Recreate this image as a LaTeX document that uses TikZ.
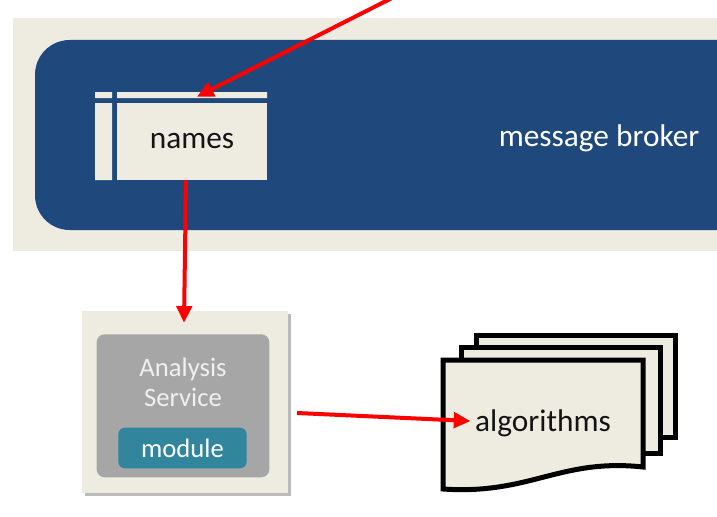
\documentclass[tikz,border=0pt]{standalone}
\usepackage{fontspec}
\setmainfont{Carlito}
\usetikzlibrary{arrows.meta,positioning,shadows}
\definecolor{paper}{RGB}{238,236,225}
\definecolor{broker}{RGB}{31,73,125}
\definecolor{svcgray}{RGB}{166,166,166}
\definecolor{modteal}{RGB}{49,133,156}
\definecolor{ink}{RGB}{20,20,20}

\begin{document}
\begin{tikzpicture}[x=0.75pt,y=-0.75pt,>={Triangle[length=12.5pt,width=11.5pt]},
 flow/.style={draw=red,line width=3pt,->},
 bigfont/.style={font=\fontsize{23.5}{28}\selectfont},
 smallfont/.style={font=\fontsize{20}{22.5}\selectfont},
 sheet/.style={draw=black,line width=3.75pt,fill=paper}]
\clip (0,0) rectangle (717,517);
\fill[white] (0,0) rectangle (717,517);
% message broker band
\fill[paper] (13,18) rectangle (760,251);
\fill[broker,rounded corners=26pt] (35,40) rectangle (800,230);
\node[bigfont,text=white] (broker) at (599,138) {message broker};
% names table
\fill[paper] (95,92) rectangle (112,98) (117,92) rectangle (267,98) (95,103) rectangle (112,180);
\node[bigfont,fill=paper,text=ink,minimum width=112.5pt,minimum height=57.75pt,inner sep=0pt] (names) at (192,141.5) {\raisebox{-2.2pt}{names}};
% analysis service
\node[fill=paper,minimum width=154.5pt,minimum height=136.5pt,
 drop shadow={shadow xshift=2.5pt,shadow yshift=-2.5pt,fill=black!60,opacity=.45}] (svc) at (185,402) {};
\node[fill=svcgray,rounded corners=6pt,minimum width=129.5pt,minimum height=107.25pt] (core) at (183,405.8) {};
\node[smallfont,text=white!94!black,align=center] (svcname) at (183,382) {Analysis\\Service};
\node[smallfont,fill=modteal,text=white,rounded corners=5pt,minimum width=96.3pt,minimum height=30.5pt] (module) at (182.5,448) {\raisebox{-1.5pt}{module}};
% algorithms stack
\draw[sheet] (476,335) rectangle (675,437);
\draw[sheet] (461,347) rectangle (660,453);
\draw[sheet] (443,360) -- (643,360) -- (643,467) .. controls (560,458) and (530,495) .. (443,489) -- cycle;
\node[bigfont,text=ink] (alg) at (543,423) {algorithms};
% connectors
\coordinate (feed) at (392,-2);
\coordinate (out) at (297,413);
\draw[flow] (feed) -- ([xshift=3.75pt,yshift=4.5pt]names.north);
\draw[flow] ([xshift=-4.5pt]names.south) -- ([xshift=-0.75pt,yshift=-9pt]svc.north);
\draw[flow] (out) -- ([yshift=1.5pt]alg.west);
\end{tikzpicture}
\end{document}
